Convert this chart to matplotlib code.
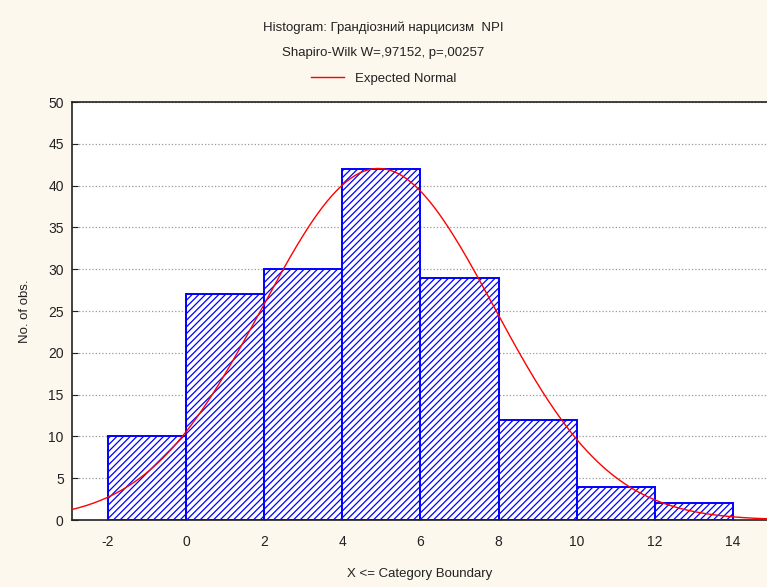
import numpy as np
import matplotlib.pyplot as plt

plt.rcParams['font.family'] = ['Liberation Sans', 'DejaVu Sans']
plt.rcParams['axes.unicode_minus'] = False
plt.rcParams['hatch.color'] = '#1a1aff'
plt.rcParams['hatch.linewidth'] = 0.9

# histogram data
bin_edges = [-2, 0, 2, 4, 6, 8, 10, 12, 14]
counts = [10, 27, 30, 42, 29, 12, 4, 2]

# fitted normal parameters
n_obs = 156
mean_val = 4.92
sd_val = 2.96

fig = plt.figure(figsize=(7.67, 5.87), dpi=100)
fig.patch.set_facecolor('#fdf8ee')
ax = fig.add_axes([0.0939, 0.1141, 0.9061, 0.7121])
ax.set_facecolor('white')

lefts = bin_edges[:-1]
widths = np.diff(bin_edges)
ax.bar(lefts, counts, width=widths, align='edge', facecolor='white',
       edgecolor='#0000ff', linewidth=1.4, hatch='/////', zorder=2)

xs = np.linspace(-2.92, 14.87, 300)
ys = n_obs * 2 / (sd_val * np.sqrt(2 * np.pi)) * np.exp(-(xs - mean_val) ** 2 / (2 * sd_val ** 2))
line, = ax.plot(xs, ys, color='#ff0000', linewidth=1.0, zorder=3)

ax.set_xlim(-2.92, 14.87)
ax.set_ylim(0, 50)
ax.set_xticks(range(-2, 15, 2))
ax.set_yticks(range(0, 51, 5))
ax.yaxis.grid(True, linestyle=':', color='#999999', linewidth=0.9, zorder=0)
ax.set_axisbelow(True)
ax.tick_params(direction='in', length=4, labelsize=10, colors='#222222', pad=6)
ax.tick_params(axis='x', pad=10.5)
for s in ['left', 'bottom', 'top']:
    ax.spines[s].set_linewidth(1.2)
    ax.spines[s].set_color('#222222')
ax.spines['right'].set_visible(False)

ax.set_xlabel('X <= Category Boundary', fontsize=9.5, color='#222222', labelpad=14)
ax.set_ylabel('No. of obs.', fontsize=9.5, color='#222222', labelpad=12)

fig.text(0.5, 0.953, 'Histogram: Грандіозний нарцисизм  NPI', ha='center', va='center',
         fontsize=9.5, color='#222222')
fig.text(0.5, 0.909, 'Shapiro-Wilk W=,97152, p=,00257', ha='center', va='center',
         fontsize=9.5, color='#222222')
fig.legend([line], ['Expected Normal'], loc='center', bbox_to_anchor=(0.5, 0.866),
           frameon=False, fontsize=9.5, handlelength=2.5, labelcolor='#222222')

fig.savefig('out.png', dpi=100, facecolor=fig.get_facecolor())
